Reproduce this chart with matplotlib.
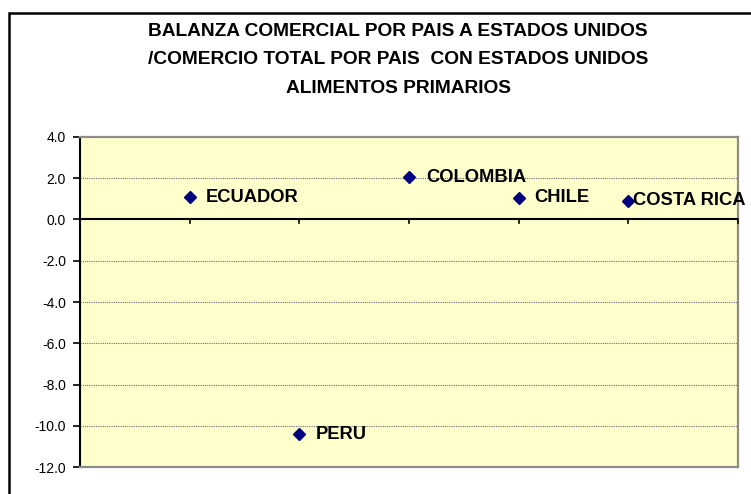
import matplotlib
matplotlib.use("Agg")
import matplotlib.pyplot as plt
from matplotlib.patches import Rectangle
from matplotlib.ticker import FormatStrFormatter

plt.rcParams['font.family'] = ['Liberation Sans', 'DejaVu Sans']
plt.rcParams['axes.unicode_minus'] = False

countries = ["ECUADOR", "PERU", "COLOMBIA", "CHILE", "COSTA RICA"]
values = [1.08, -10.4, 2.05, 1.06, 0.91]
title_lines = ["BALANZA COMERCIAL POR PAIS A ESTADOS UNIDOS",
               "/COMERCIO TOTAL POR PAIS  CON ESTADOS UNIDOS",
               "ALIMENTOS PRIMARIOS"]
yticks = [4.0, 2.0, 0.0, -2.0, -4.0, -6.0, -8.0, -10.0, -12.0]
label_offsets_px = [16, 16, 17, 16, 5]

W, H = 751, 494
fig = plt.figure(figsize=(W / 100, H / 100), dpi=100)
fig.patch.set_facecolor("white")

# outer chart frame (clipped at right and bottom)
fig.patches.append(Rectangle((9 / W, -0.2), 1.2, 1.2 - 13 / H, transform=fig.transFigure,
                             fill=False, edgecolor="black", linewidth=1.8, zorder=0))

ax = fig.add_axes([80 / W, 27 / H, 658 / W, 330 / H])
ax.set_facecolor("#FFFFCC")

x = list(range(1, len(countries) + 1))
ax.plot(x, values, linestyle="none", marker="D", markersize=5.8,
        color="#000080", zorder=5, clip_on=False)

for xi, yi, name, off in zip(x, values, countries, label_offsets_px):
    ax.annotate(name, (xi, yi), xytext=(off * 0.72, 0), textcoords="offset points",
                ha="left", va="center", fontsize=13.2, fontweight="bold",
                color="black", annotation_clip=False, zorder=6)

ax.set_xlim(0, len(countries) + 1)
ax.set_ylim(-12, 4)
ax.set_yticks(yticks)
ax.yaxis.set_major_formatter(FormatStrFormatter("%.1f"))
ax.tick_params(axis="y", direction="out", length=5, width=1.2, labelsize=10, pad=5)
ax.set_xticks([])

for yv in yticks:
    if yv not in (4.0, -12.0, 0.0):
        ax.axhline(yv, color="#6f6f6f", linewidth=0.8, linestyle=(0, (1, 1)), zorder=1)

# zero axis line with small tick marks
ax.axhline(0, color="black", linewidth=1.5, zorder=3)
for xt in range(1, len(countries) + 2):
    ax.plot([xt, xt], [0, -0.15], color="black", linewidth=1.2, zorder=3, clip_on=False)

for side in ["top", "right", "bottom"]:
    ax.spines[side].set_color("#8c8c8c")
    ax.spines[side].set_linewidth(1.6)
ax.spines["left"].set_color("black")
ax.spines["left"].set_linewidth(1.5)

title_y = [31.7, 60.0, 88.3]
for line, ty in zip(title_lines, title_y):
    fig.text(398 / W, 1 - ty / H, line, ha="center", va="center",
             fontsize=13.8, fontweight="bold", color="black")

fig.savefig("out.png", dpi=100)
